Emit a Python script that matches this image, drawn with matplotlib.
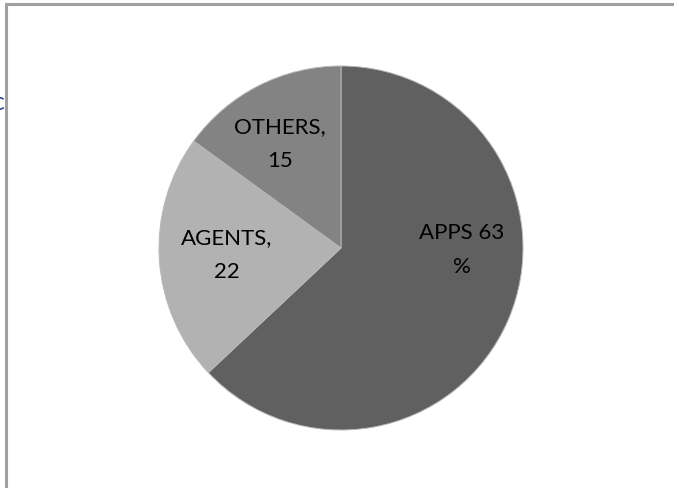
import matplotlib
matplotlib.use("Agg")
import matplotlib.pyplot as plt
from matplotlib.patches import Rectangle

categories = ["APPS", "AGENTS", "OTHERS"]
values = [63, 22, 15]
colors = ["#606060", "#b2b2b2", "#838383"]
label_texts = ["APPS 63\n%", "AGENTS,\n22", "OTHERS,\n15"]

W, H = 674, 488
fig = plt.figure(figsize=(W / 100, H / 100), dpi=100)
fig.patch.set_facecolor("white")

ax = fig.add_axes([0, 0, 1, 1])

cx, cy, r = 341, H - 248, 182
ax.pie(values, colors=colors, startangle=90, counterclock=False,
       center=(cx, cy), radius=r, frame=True,
       wedgeprops=dict(edgecolor="#b8b8b8", linewidth=0.7))
ax.set_xlim(0, W)
ax.set_ylim(0, H)
ax.set_aspect("equal")
ax.axis("off")

label_pos = [(462, H - 250), (227, H - 255), (280, H - 144)]
for txt, (x, y) in zip(label_texts, label_pos):
    ax.text(x, y, txt, ha="center", va="center", fontsize=16,
            family="Lato", color="black", linespacing=1.85)

# chart area border
fig.patches.append(Rectangle((5.5 / W, -0.1), 1.2, (H - 4.5) / H + 0.1,
                             transform=fig.transFigure, fill=False,
                             edgecolor="#a0a0a0", linewidth=2.2))

fig.text(4.5 / W, (H - 103) / H, "c", color="#2f4f8f", fontsize=18,
         family="Lato", ha="right", va="center", zorder=5)

fig.savefig("out.png", dpi=100)
